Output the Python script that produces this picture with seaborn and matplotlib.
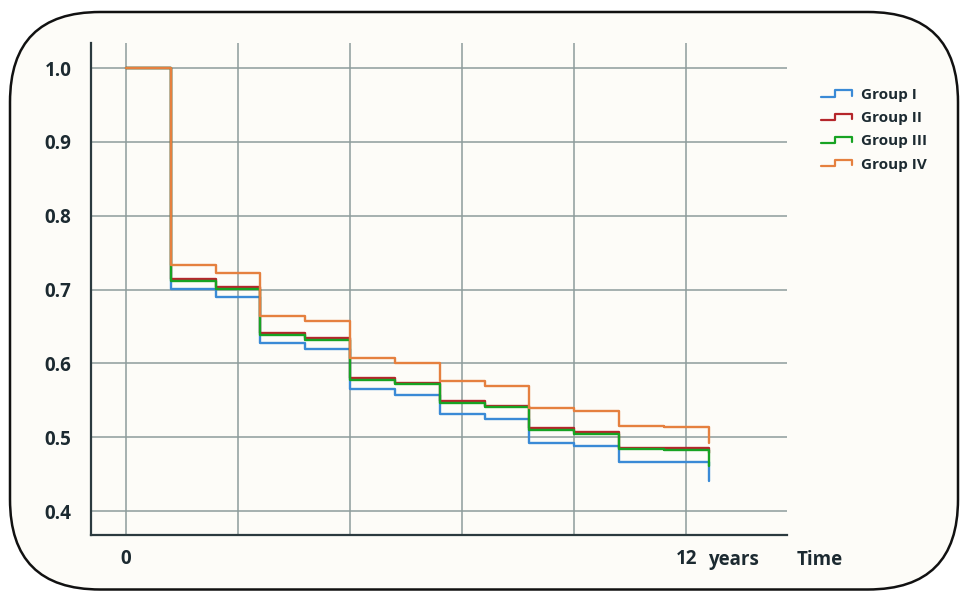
import numpy as np
import pandas as pd
import seaborn as sns
import matplotlib.pyplot as plt
from matplotlib.lines import Line2D
from matplotlib.patches import FancyBboxPatch
from matplotlib.legend_handler import HandlerBase

# follow-up times (years) at which the curves step down
times = [0, 0.96, 1.92, 2.88, 3.84, 4.80, 5.76, 6.72, 7.68, 8.64, 9.60, 10.56, 11.52, 12.48]

group_1 = [1.0, 0.701, 0.690, 0.627, 0.619, 0.565, 0.557, 0.531, 0.525, 0.492, 0.488, 0.466, 0.466, 0.441]
group_2 = [1.0, 0.714, 0.703, 0.641, 0.634, 0.580, 0.574, 0.549, 0.543, 0.512, 0.507, 0.486, 0.485, 0.478]
group_3 = [1.0, 0.711, 0.701, 0.639, 0.632, 0.578, 0.572, 0.547, 0.541, 0.510, 0.505, 0.484, 0.483, 0.461]
group_4 = [1.0, 0.733, 0.723, 0.664, 0.657, 0.607, 0.601, 0.576, 0.569, 0.539, 0.536, 0.515, 0.514, 0.492]

groups = ['Group I', 'Group II', 'Group III', 'Group IV']
colori = ['#3a8ad6', '#b5262b', '#17a323', '#e5803f']

y_ticks = [0.4, 0.5, 0.6, 0.7, 0.8, 0.9, 1.0]
x_grid = [0, 2.4, 4.8, 7.2, 9.6, 12]
x_labels = ['0', '', '', '', '', '12']

df = pd.DataFrame({
    'time': times * 4,
    'surv': group_1 + group_2 + group_3 + group_4,
    'group': [g for g in groups for _ in times],
})


class StepHandler(HandlerBase):
    # small step-shaped glyph for the legend
    def create_artists(self, legend, orig_handle, xdescent, ydescent, width, height, fontsize, trans):
        xs = np.array([0, 0.45, 0.45, 1.0, 1.0]) * width - xdescent
        ys = np.array([0.2, 0.2, 0.8, 0.8, 0.3]) * height - ydescent
        l = Line2D(xs, ys, color=orig_handle.get_color(), lw=1.6)
        l.set_transform(trans)
        return [l]


sns.set_theme(style='white')
plt.rcParams['font.family'] = ['Open Sans', 'DejaVu Sans']
testo = '#1c2a31'

fig = plt.figure(figsize=(9.6, 5.92), dpi=100, facecolor='white')
bordo = FancyBboxPatch((0.10, 0.025), 9.48, 5.775, boxstyle='round,pad=0,rounding_size=0.9',
                       transform=fig.dpi_scale_trans, facecolor='#fdfcf8', edgecolor='#111111',
                       lw=1.8, zorder=-1)
fig.add_artist(bordo)

ax = fig.add_axes([91 / 960, 57 / 592, 696 / 960, 492 / 592])
ax.set_facecolor('none')

sns.lineplot(data=df, x='time', y='surv', hue='group', hue_order=groups, palette=colori,
             drawstyle='steps-post', estimator=None, legend=False, lw=1.7, ax=ax)

ax.set_xlim(-0.75, 14.16)
ax.set_ylim(0.3676, 1.034)
ax.set_xticks(x_grid)
ax.set_xticklabels(x_labels)
ax.set_yticks(y_ticks)
ax.set_yticklabels([f'{v:.1f}' for v in y_ticks])
ax.tick_params(length=0, labelsize=13.5, labelcolor=testo)
ax.tick_params(axis='y', pad=14)
ax.tick_params(axis='x', pad=10)
for lab in ax.get_xticklabels() + ax.get_yticklabels():
    lab.set_fontweight('bold')
ax.grid(True, color='#8e9c9c', lw=1.1)
ax.set_axisbelow(True)
for s in ['top', 'right']:
    ax.spines[s].set_visible(False)
for s in ['left', 'bottom']:
    ax.spines[s].set_color('#2b3a3f')
    ax.spines[s].set_linewidth(1.6)
ax.set_xlabel('')
ax.set_ylabel('')

ax.annotate('years', xy=(12, 0), xycoords=ax.get_xaxis_transform(), xytext=(22, -25),
            textcoords='offset pixels', ha='left', va='center', fontsize=13.5,
            fontweight='bold', color=testo)
ax.annotate('Time', xy=(1, 0), xycoords='axes fraction', xytext=(10, -25),
            textcoords='offset pixels', ha='left', va='center', fontsize=13.5,
            fontweight='bold', color=testo)

handles = ax.get_lines()[:4]
ax.legend(handles, groups, handler_map={Line2D: StepHandler()}, loc='upper left',
          bbox_to_anchor=(821 / 960, 1 - 88 / 592), bbox_transform=fig.transFigure,
          frameon=False, borderpad=0, borderaxespad=0, handlelength=2.0,
          handletextpad=0.6, labelspacing=0.6, labelcolor=testo,
          prop={'weight': 'bold', 'size': 11})

fig.savefig('out.png', dpi=100, facecolor='white')
